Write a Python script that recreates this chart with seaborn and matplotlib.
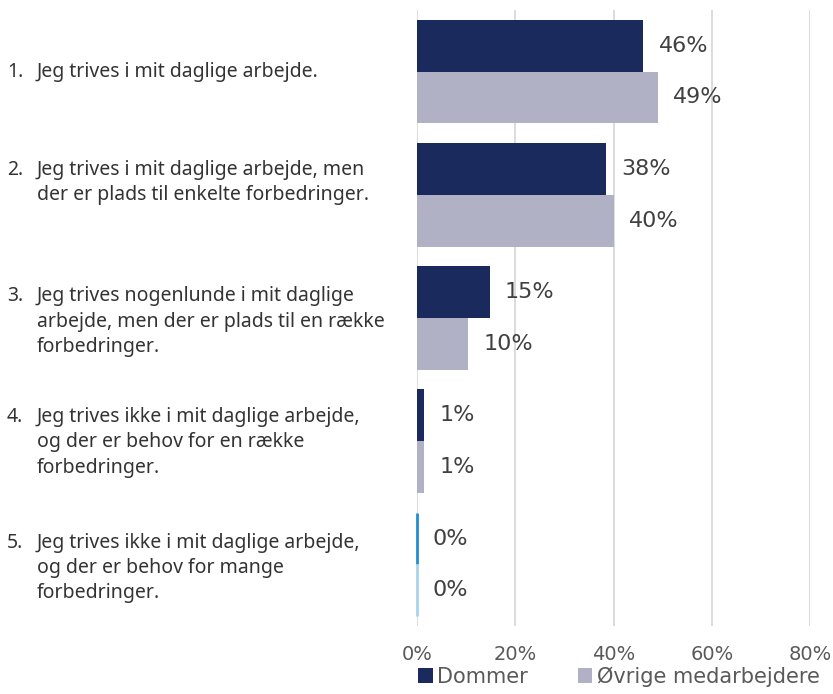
import matplotlib
matplotlib.use("Agg")
import matplotlib.pyplot as plt
import matplotlib.transforms as mtransforms
import seaborn as sns
import pandas as pd

categories = [
    "Jeg trives i mit daglige arbejde.",
    "Jeg trives i mit daglige arbejde, men\nder er plads til enkelte forbedringer.",
    "Jeg trives nogenlunde i mit daglige\narbejde, men der er plads til en række\nforbedringer.",
    "Jeg trives ikke i mit daglige arbejde,\nog der er behov for en række\nforbedringer.",
    "Jeg trives ikke i mit daglige arbejde,\nog der er behov for mange\nforbedringer.",
]
numbers = ["1.", "2.", "3.", "4.", "5."]
series = ["Dommer", "Øvrige medarbejdere"]
dommer = [46.1, 38.4, 14.8, 1.4, 0.0]
oevrige = [49.0, 40.0, 10.4, 1.4, 0.0]
x_ticks = [0, 20, 40, 60, 80]

rows = []
for i, c in enumerate(categories):
    rows.append({"cat": c, "serie": series[0], "val": dommer[i]})
    rows.append({"cat": c, "serie": series[1], "val": oevrige[i]})
df = pd.DataFrame(rows)

sns.set_theme(style="white")
plt.rcParams["font.family"] = ["DejaVu Sans"]

fig = plt.figure(figsize=(8.33, 6.94), dpi=100)
ax = fig.add_axes([0.5006, 0.098, 0.4718, 0.8876])

colors = ["#1b2a5c", "#b0b1c5"]
edge_zero = ["#1f8fcf", "#a9d3ee"]
sns.barplot(data=df, y="cat", x="val", hue="serie", order=categories,
            hue_order=series, palette=colors, orient="h", width=0.84,
            ax=ax, saturation=1, legend=True, linewidth=0)

ax.set_xlim(0, 80)
ax.set_xticks(x_ticks)
ax.set_xticklabels([f"{t}%" for t in x_ticks], family="DejaVu Sans")
ax.tick_params(axis="x", length=0, pad=14, labelsize=14, labelcolor="#595959")
ax.set_yticks(range(len(categories)))
ax.set_yticklabels([])
ax.tick_params(axis="y", length=0)
ax.set_xlabel("")
ax.set_ylabel("")
ax.grid(axis="x", color="#d9d9d9", linewidth=1.3)
ax.grid(axis="y", visible=False)
ax.set_axisbelow(True)
for s in ax.spines.values():
    s.set_visible(False)

for k, cont in enumerate(ax.containers):
    for p in cont.patches:
        if p.get_width() == 0:
            p.set_edgecolor(edge_zero[k])
            p.set_linewidth(2)
            p.set_clip_on(False)
    ax.bar_label(cont, labels=[f"{round(p.get_width()):.0f}%" for p in cont.patches],
                 padding=11, fontsize=16, color="#404040", family="DejaVu Sans")

# category labels
trans = mtransforms.blended_transform_factory(fig.transFigure, ax.transData)
offsets = [0, -0.1, 0.03, 0.01, 0.03]
lab_kw = dict(transform=trans, ha="left", va="center", fontsize=14,
              color="#333333", family="Noto Sans", linespacing=1.36, clip_on=False)
for i, (n, c) in enumerate(zip(numbers, categories)):
    y = i + offsets[i]
    nlines = c.count("\n") + 1
    ax.text(0.0444, y, c, **lab_kw)
    ax.text(0.0084, y, n + "\n" * (nlines - 1) + (" " if nlines > 1 else ""), **lab_kw)

handles, labels = ax.get_legend_handles_labels()
ax.get_legend().remove()
fig.legend(handles, labels, loc="center", bbox_to_anchor=(0.743, 0.025), ncol=2,
           frameon=False, fontsize=15, handlelength=0.7, handleheight=0.7,
           handletextpad=0.2, columnspacing=2.4, labelcolor="#595959",
           prop={"family": "DejaVu Sans", "size": 15})

fig.savefig("out.png", dpi=100)
